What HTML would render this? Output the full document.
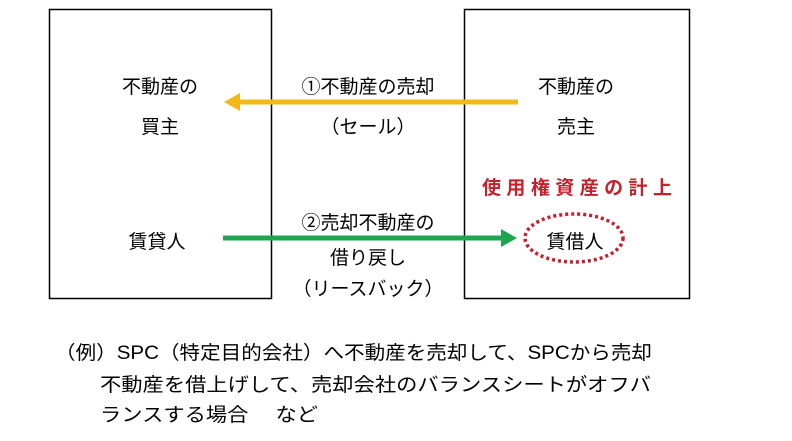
<!DOCTYPE html>
<html><head><meta charset="utf-8"><style>
html,body{margin:0;padding:0;background:#fff;}
svg{display:block;}
text{font-family:"Liberation Sans","Noto Sans CJK JP",sans-serif;font-size:19px;fill:#000;}
</style></head><body>
<svg width="792" height="441" viewBox="0 0 792 441" xmlns="http://www.w3.org/2000/svg">
<rect x="0" y="0" width="792" height="441" fill="#fff"/>
<rect x="49.5" y="9.5" width="222" height="289" fill="none" stroke="#000" stroke-width="1.5"/>
<rect x="464.5" y="9.5" width="225" height="289" fill="none" stroke="#000" stroke-width="1.5"/>
<line x1="518" y1="102" x2="238" y2="102" stroke="#f2b81c" stroke-width="5"/>
<polygon points="224,102 240,93 240,111" fill="#f2b81c"/>
<line x1="223" y1="238" x2="502" y2="238" stroke="#1ea550" stroke-width="5"/>
<polygon points="517,238 501,229 501,247" fill="#1ea550"/>
<ellipse cx="574" cy="238" rx="49" ry="24" fill="none" stroke="#c8202a" stroke-width="3.5" stroke-dasharray="3 3"/>
<g text-anchor="middle">
<text x="160" y="93">不動産の</text>
<text x="160" y="133">買主</text>
<text x="157" y="248">賃貸人</text>
<text x="368" y="93">①不動産の売却</text>
<text x="368" y="133">（セール）</text>
<text x="368" y="229">②売却不動産の</text>
<text x="368" y="264">借り戻し</text>
<text x="368" y="295">（リースバック）</text>
<text x="576" y="93">不動産の</text>
<text x="576" y="133">売主</text>
<text x="577" y="194" style="fill:#c8202a;font-weight:bold" textLength="190" lengthAdjust="spacing">使用権資産の計上</text>
<text x="575" y="248">賃借人</text>
</g>
<text x="55" y="359" textLength="597" lengthAdjust="spacingAndGlyphs">（例）SPC（特定目的会社）へ不動産を売却して、SPCから売却</text>
<text x="100" y="391" textLength="551" lengthAdjust="spacingAndGlyphs">不動産を借上げして、売却会社のバランスシートがオフバ</text>
<text x="100" y="421" textLength="218" lengthAdjust="spacingAndGlyphs">ランスする場合　 など</text>
</svg>
</body></html>
